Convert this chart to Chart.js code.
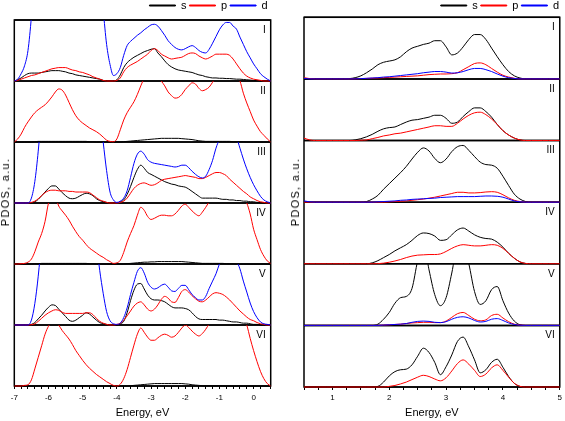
<!DOCTYPE html>
<html><head><meta charset="utf-8">
<script src="https://cdn.jsdelivr.net/npm/chart.js@4"></script>
<style>
html,body{margin:0;padding:0;background:#fff;}
#wrap{position:relative;width:565px;height:421px;overflow:hidden;background:#fff;}
.pane{position:absolute;top:0;height:421px;}
.ylab{position:absolute;font:11px "Liberation Sans",Arial,sans-serif;letter-spacing:1.3px;color:#000;white-space:nowrap;transform:translate(-50%,-50%) rotate(-90deg);}
</style></head><body>
<div id="wrap">
<div class="pane" style="left:0;width:283px"><canvas id="cL" width="283" height="421"></canvas></div>
<div class="pane" style="left:283px;width:282px"><canvas id="cR" width="282" height="421"></canvas></div>
<div class="ylab" style="left:5px;top:192px">PDOS, a.u.</div>
<div class="ylab" style="left:295px;top:192px">PDOS, a.u.</div>
</div>
<script>
// ---------- data ----------
const subplotLabels = ['I','II','III','IV','V','VI'];
const seriesNames = ['s','p','d'];
const majorTicksLeft = [-7,-6,-5,-4,-3,-2,-1,0];
const majorTicksRight = [1,2,3,4,5];

const energyLeft = [-7.0,-6.9,-6.8,-6.7,-6.6,-6.5,-6.4,-6.3,-6.2,-6.1,
 -6.0,-5.9,-5.8,-5.7,-5.6,-5.5,-5.4,-5.3,-5.2,-5.1,
 -5.0,-4.9,-4.8,-4.7,-4.6,-4.5,-4.4,-4.3,-4.2,-4.1,
 -4.0,-3.9,-3.8,-3.7,-3.6,-3.5,-3.4,-3.3,-3.2,-3.1,
 -3.0,-2.9,-2.8,-2.7,-2.6,-2.5,-2.4,-2.3,-2.2,-2.1,
 -2.0,-1.9,-1.8,-1.7,-1.6,-1.5,-1.4,-1.3,-1.2,-1.1,
 -1.0,-0.9,-0.8,-0.7,-0.6,-0.5,-0.4,-0.3,-0.2,-0.1,
 0.0,0.1,0.2,0.3,0.4,0.5];

const energyRight = [0.5,0.6,0.7,0.8,0.9,1.0,1.1,1.2,1.3,1.4,
 1.5,1.6,1.7,1.8,1.9,2.0,2.1,2.2,2.3,2.4,
 2.5,2.6,2.7,2.8,2.9,3.0,3.1,3.2,3.3,3.4,
 3.5,3.6,3.7,3.8,3.9,4.0,4.1,4.2,4.3,4.4,
 4.5,4.6,4.7,4.8,4.9,5.0];

// Left panel (valence), subplot I..VI
const sL1 = [0,0.02,0.05,0.09,0.12,0.13,0.13,0.13,0.14,0.15,
 0.16,0.17,0.17,0.17,0.16,0.15,0.13,0.12,0.10,0.09,
 0.08,0.07,0.06,0.05,0.04,0.03,0.01,0,0,0,
 0.02,0.1,0.22,0.3,0.35,0.39,0.42,0.45,0.48,0.5,
 0.52,0.53,0.46,0.4,0.33,0.27,0.23,0.2,0.18,0.17,
 0.16,0.15,0.14,0.12,0.1,0.09,0.07,0.06,0.05,0.05,
 0.045,0.045,0.04,0.04,0.035,0.03,0.03,0.025,0.02,0.015,
 0.01,0.01,0.005,0,0,0];
const pL1 = [0,0.01,0.03,0.05,0.07,0.09,0.1,0.12,0.14,0.16,
 0.18,0.2,0.21,0.22,0.22,0.22,0.2,0.18,0.17,0.15,
 0.14,0.12,0.1,0.07,0.05,0.03,0.01,0,0,0,
 0.01,0.05,0.15,0.22,0.26,0.29,0.32,0.36,0.4,0.44,
 0.5,0.53,0.5,0.44,0.41,0.38,0.36,0.37,0.38,0.39,
 0.42,0.45,0.46,0.45,0.41,0.38,0.36,0.38,0.41,0.44,
 0.44,0.44,0.44,0.42,0.36,0.28,0.2,0.13,0.08,0.05,
 0.03,0.02,0.01,0,0,0];
const dL1 = [0,0.03,0.12,0.25,0.5,1.05,1.8,2.5,3,3.3,
 3.5,3.5,3.5,3.5,3.5,3.5,3.5,3.5,3.5,3.5,
 3.5,3.4,3.0,2.6,2.1,1.6,1.15,0.6,0.27,0.09,
 0.12,0.22,0.42,0.58,0.65,0.7,0.75,0.79,0.84,0.88,
 0.92,0.93,0.9,0.83,0.75,0.66,0.6,0.55,0.52,0.51,
 0.53,0.56,0.58,0.55,0.5,0.47,0.46,0.52,0.62,0.73,
 0.84,0.92,0.96,0.96,0.9,0.85,0.72,0.6,0.48,0.38,
 0.28,0.2,0.12,0.07,0.03,0];

const sL2 = [0,0,0,0,0,0,0.005,0.01,0.01,0.01,
 0.01,0.01,0.01,0.01,0.01,0.01,0.01,0.01,0.01,0.01,
 0.01,0.01,0.005,0.005,0,0,0,0,0,0,
 0,0,0.005,0.01,0.015,0.02,0.025,0.03,0.035,0.04,
 0.045,0.05,0.055,0.06,0.06,0.06,0.06,0.06,0.06,0.055,
 0.05,0.045,0.04,0.03,0.02,0.015,0.01,0.01,0.01,0.01,
 0.01,0.01,0.01,0.01,0.005,0.005,0.005,0.005,0,0,
 0,0,0,0,0,0];
const pL2 = [0,0.05,0.13,0.24,0.33,0.41,0.48,0.53,0.57,0.61,
 0.67,0.74,0.82,0.87,0.85,0.77,0.65,0.53,0.43,0.36,
 0.31,0.27,0.23,0.2,0.17,0.13,0.08,0.03,0.01,0.005,
 0.05,0.2,0.36,0.48,0.57,0.66,0.78,0.92,1.05,1.15,
 1.2,1.15,1.08,1.0,0.92,0.82,0.76,0.72,0.73,0.78,
 0.86,0.92,0.97,0.95,0.88,0.84,0.86,0.9,0.98,1.08,
 1.15,1.2,1.2,1.18,1.14,1.08,1.0,0.8,0.64,0.5,
 0.36,0.26,0.17,0.11,0.05,0];

const sL3 = [0,0,0,0,0,0.005,0.02,0.06,0.12,0.18,
 0.24,0.28,0.28,0.23,0.17,0.12,0.08,0.07,0.08,0.11,
 0.14,0.16,0.15,0.12,0.07,0.04,0.02,0.01,0,0,
 0,0.02,0.05,0.14,0.27,0.42,0.55,0.62,0.57,0.5,
 0.47,0.44,0.41,0.38,0.35,0.33,0.31,0.3,0.28,0.27,
 0.26,0.23,0.19,0.15,0.11,0.08,0.08,0.08,0.08,0.08,
 0.07,0.06,0.06,0.05,0.05,0.04,0.04,0.03,0.03,0.02,
 0.02,0.01,0.01,0,0,0];
const pL3 = [0,0,0,0,0,0.01,0.03,0.07,0.12,0.17,
 0.2,0.21,0.21,0.2,0.2,0.2,0.19,0.19,0.18,0.18,
 0.18,0.18,0.17,0.13,0.09,0.05,0.03,0.01,0,0,
 0,0.01,0.03,0.08,0.16,0.24,0.29,0.32,0.33,0.31,
 0.29,0.3,0.33,0.37,0.39,0.4,0.41,0.42,0.43,0.44,
 0.45,0.44,0.43,0.42,0.4,0.4,0.42,0.45,0.48,0.5,
 0.5,0.48,0.45,0.39,0.34,0.29,0.24,0.19,0.15,0.1,
 0.07,0.04,0.02,0.01,0,0];
const dL3 = [0,0,0,0,0,0.08,0.35,0.85,1.5,2.2,
 2.8,3.2,3.5,3.5,3.5,3.5,3.5,3.5,3.5,3.5,
 3.5,3.4,3.1,2.5,2.0,1.5,1.0,0.53,0.18,0.05,
 0.01,0.03,0.08,0.2,0.42,0.65,0.8,0.85,0.8,0.71,
 0.67,0.65,0.64,0.63,0.62,0.61,0.6,0.59,0.6,0.62,
 0.62,0.58,0.52,0.47,0.43,0.41,0.44,0.55,0.7,0.9,
 1.05,1.2,1.25,1.25,1.2,1.08,0.9,0.72,0.56,0.42,
 0.3,0.2,0.11,0.05,0.02,0];

const sL4 = [0,0,0,0,0,0,0.005,0.005,0.01,0.01,
 0.01,0.01,0.01,0.01,0.01,0.01,0.01,0.01,0.01,0.01,
 0.01,0.01,0.005,0.005,0,0,0,0,0,0,
 0,0,0,0.005,0.01,0.015,0.02,0.025,0.03,0.03,
 0.035,0.035,0.04,0.04,0.04,0.04,0.04,0.04,0.04,0.04,
 0.035,0.03,0.025,0.02,0.015,0.01,0.01,0.01,0.01,0.01,
 0.01,0.01,0.005,0.005,0.005,0,0,0,0,0,
 0,0,0,0,0,0];
const pL4 = [0,0,0.005,0.01,0.03,0.08,0.2,0.36,0.5,0.7,
 1.0,1.15,1.1,0.95,0.87,0.8,0.72,0.62,0.53,0.45,
 0.39,0.32,0.26,0.22,0.18,0.14,0.11,0.07,0.04,0.01,
 0.02,0.06,0.19,0.36,0.5,0.63,0.8,0.93,0.88,0.78,
 0.73,0.75,0.78,0.8,0.8,0.79,0.79,0.82,0.88,0.95,
 0.98,0.93,0.87,0.82,0.79,0.85,0.93,1.02,1.1,1.18,
 1.2,1.2,1.2,1.2,1.2,1.18,1.15,1.1,1.0,0.82,
 0.57,0.4,0.24,0.13,0.05,0.01];

const sL5 = [0,0,0,0,0,0.01,0.04,0.1,0.16,0.23,
 0.29,0.33,0.32,0.26,0.2,0.14,0.08,0.06,0.08,0.12,
 0.16,0.2,0.18,0.13,0.08,0.04,0.02,0.01,0,0,
 0,0.02,0.06,0.2,0.4,0.57,0.67,0.68,0.59,0.49,
 0.43,0.41,0.41,0.4,0.38,0.34,0.3,0.28,0.28,0.28,
 0.27,0.25,0.2,0.14,0.1,0.09,0.09,0.09,0.09,0.09,
 0.08,0.08,0.07,0.06,0.05,0.05,0.04,0.03,0.03,0.02,
 0.01,0.01,0,0,0,0];
const pL5 = [0,0,0,0,0,0.005,0.02,0.06,0.11,0.16,
 0.2,0.23,0.25,0.24,0.21,0.19,0.19,0.19,0.19,0.19,
 0.19,0.2,0.2,0.17,0.11,0.06,0.03,0.01,0,0,
 0.01,0.03,0.08,0.15,0.23,0.31,0.36,0.38,0.33,0.26,
 0.23,0.26,0.33,0.42,0.47,0.44,0.38,0.37,0.45,0.55,
 0.58,0.54,0.48,0.43,0.39,0.38,0.41,0.46,0.51,0.53,
 0.52,0.5,0.46,0.41,0.35,0.29,0.23,0.18,0.13,0.09,
 0.07,0.04,0.02,0.01,0,0];
const dL5 = [0,0,0,0,0,0.08,0.35,0.8,1.4,2.0,
 2.5,2.8,3.0,3.0,3.0,3.0,3.0,3.0,3.0,3.0,
 3.0,2.7,2.2,1.8,1.35,0.89,0.52,0.22,0.07,0.02,
 0.01,0.03,0.12,0.28,0.5,0.7,0.88,0.94,0.85,0.7,
 0.62,0.59,0.61,0.65,0.67,0.62,0.56,0.55,0.6,0.65,
 0.65,0.58,0.5,0.45,0.41,0.41,0.47,0.6,0.72,0.84,
 1.0,1.12,1.18,1.18,1.12,1.05,0.92,0.72,0.54,0.36,
 0.22,0.12,0.05,0.02,0.01,0];

const sL6 = [0,0,0,0,0,0,0,0.005,0.005,0.005,
 0.005,0.005,0.005,0.005,0.005,0.005,0.005,0.005,0.005,0.005,
 0.005,0.005,0,0,0,0,0,0,0,0,
 0,0,0,0,0.005,0.01,0.015,0.02,0.025,0.03,
 0.035,0.04,0.04,0.04,0.04,0.04,0.04,0.04,0.04,0.04,
 0.035,0.03,0.02,0.015,0.01,0.005,0.005,0.005,0.005,0.005,
 0.005,0.005,0,0,0,0,0,0,0,0,
 0,0,0,0,0,0];
const pL6 = [0,0,0,0.01,0.02,0.1,0.28,0.47,0.66,0.85,
 0.98,1.05,1.07,1.0,0.91,0.84,0.77,0.68,0.58,0.5,
 0.42,0.35,0.29,0.24,0.19,0.15,0.11,0.07,0.04,0.01,
 0,0.03,0.12,0.27,0.47,0.67,0.85,0.95,0.88,0.8,
 0.75,0.75,0.79,0.83,0.85,0.83,0.8,0.82,0.88,0.95,
 1.0,0.96,0.9,0.85,0.82,0.86,0.93,1.02,1.1,1.15,
 1.18,1.18,1.18,1.18,1.18,1.18,1.18,1.12,1.0,0.78,
 0.58,0.4,0.24,0.12,0.04,0];

// Right panel (conduction), subplot I..VI
const sR1 = [0,0,0,0,0,0,0,0,0.005,0.02,
 0.05,0.1,0.16,0.23,0.27,0.29,0.31,0.36,0.44,0.5,
 0.53,0.56,0.58,0.62,0.62,0.52,0.39,0.42,0.52,0.64,
 0.72,0.72,0.64,0.5,0.36,0.23,0.12,0.05,0.015,0,
 0,0,0,0,0,0];
const pR1 = [0.02,0.005,0,0,0,0,0,0,0,0,
 0.005,0.008,0.012,0.015,0.02,0.025,0.03,0.035,0.04,0.045,
 0.05,0.06,0.07,0.075,0.08,0.08,0.085,0.1,0.15,0.2,
 0.25,0.26,0.23,0.17,0.11,0.06,0.03,0.01,0,0,
 0,0,0,0,0,0];
const dR1 = [0.01,0,0,0,0,0,0,0,0,0,
 0.005,0.01,0.015,0.02,0.03,0.035,0.045,0.055,0.065,0.075,
 0.085,0.1,0.11,0.12,0.12,0.11,0.095,0.1,0.12,0.15,
 0.17,0.17,0.15,0.12,0.08,0.045,0.02,0.008,0,0,
 0,0,0,0,0,0];

const sR2 = [0,0,0,0,0,0,0,0,0,0.01,
 0.03,0.06,0.1,0.15,0.19,0.21,0.22,0.26,0.3,0.33,
 0.34,0.36,0.38,0.41,0.41,0.36,0.28,0.3,0.39,0.47,
 0.53,0.53,0.47,0.38,0.26,0.16,0.09,0.04,0.01,0,
 0,0,0,0,0,0];
const pR2 = [0.04,0.01,0,0,0,0,0,0,0,0,
 0.005,0.01,0.03,0.05,0.075,0.09,0.11,0.12,0.14,0.16,
 0.18,0.2,0.22,0.24,0.24,0.23,0.23,0.28,0.35,0.41,
 0.45,0.46,0.42,0.35,0.26,0.16,0.09,0.04,0.01,0,
 0,0,0,0,0,0];

const sR3 = [0,0,0,0,0,0,0,0,0,0,
 0,0.01,0.05,0.11,0.21,0.3,0.39,0.48,0.58,0.7,
 0.81,0.88,0.83,0.71,0.64,0.7,0.82,0.9,0.92,0.84,
 0.74,0.65,0.61,0.6,0.55,0.42,0.27,0.13,0.05,0.01,
 0,0,0,0,0,0];
const pR3 = [0,0,0,0,0,0,0,0,0,0,
 0,0,0,0,0,0.005,0.01,0.015,0.02,0.03,
 0.04,0.05,0.065,0.08,0.1,0.12,0.14,0.16,0.16,0.15,
 0.15,0.155,0.165,0.17,0.16,0.12,0.07,0.03,0.01,0,
 0,0,0,0,0,0];
const dR3 = [0.02,0.005,0,0,0,0,0,0,0,0,
 0,0,0,0.005,0.01,0.015,0.02,0.03,0.035,0.045,
 0.05,0.055,0.06,0.065,0.075,0.08,0.085,0.09,0.09,0.09,
 0.09,0.095,0.1,0.1,0.095,0.08,0.05,0.02,0.005,0,
 0,0,0,0,0,0];

const sR4 = [0,0,0,0,0,0,0,0,0,0,
 0,0,0.015,0.05,0.1,0.15,0.21,0.26,0.31,0.38,
 0.46,0.5,0.49,0.45,0.38,0.39,0.47,0.55,0.58,0.53,
 0.47,0.43,0.41,0.4,0.35,0.27,0.17,0.09,0.03,0.005,
 0,0,0,0,0,0];
const pR4 = [0,0,0,0,0,0,0,0,0,0,
 0,0,0,0.002,0.01,0.025,0.045,0.07,0.1,0.125,
 0.14,0.145,0.15,0.15,0.16,0.2,0.25,0.29,0.31,0.3,
 0.29,0.29,0.3,0.31,0.3,0.25,0.17,0.09,0.03,0.005,
 0,0,0,0,0,0];

const sR5 = [0,0,0,0,0,0,0,0,0,0,
 0,0,0,0.02,0.1,0.21,0.36,0.45,0.47,0.6,
 1.05,1.35,0.9,0.5,0.32,0.45,0.85,1.3,1.35,1.0,
 0.55,0.34,0.4,0.58,0.63,0.4,0.2,0.07,0.01,0,
 0,0,0,0,0,0];
const pR5 = [0,0,0,0,0,0,0,0,0,0,
 0,0,0,0,0.005,0.01,0.015,0.02,0.03,0.04,
 0.045,0.05,0.05,0.045,0.045,0.07,0.13,0.19,0.21,0.16,
 0.1,0.075,0.09,0.16,0.18,0.12,0.06,0.02,0.005,0,
 0,0,0,0,0,0];
const dR5 = [0,0,0,0,0,0,0,0,0,0,
 0,0,0,0,0.005,0.01,0.015,0.02,0.03,0.05,
 0.065,0.07,0.065,0.05,0.045,0.06,0.1,0.13,0.14,0.12,
 0.08,0.055,0.065,0.1,0.11,0.08,0.04,0.015,0.003,0,
 0,0,0,0,0,0];

const sR6 = [0,0,0,0,0,0,0,0,0,0,
 0,0,0,0.01,0.08,0.18,0.25,0.28,0.29,0.36,
 0.5,0.63,0.56,0.4,0.2,0.33,0.52,0.74,0.81,0.65,
 0.44,0.23,0.28,0.4,0.45,0.32,0.17,0.06,0.01,0,
 0,0,0,0,0,0];
const pR6 = [0,0,0,0,0,0,0,0,0,0,
 0,0,0,0,0,0.01,0.025,0.05,0.08,0.12,
 0.16,0.19,0.17,0.13,0.1,0.15,0.26,0.38,0.44,0.37,
 0.27,0.17,0.21,0.31,0.36,0.27,0.16,0.06,0.01,0,
 0,0,0,0,0,0];

// ---------- styling ----------
const colors = {s:'#000000', p:'#ff0000', d:'#0000ff'};
const drawOrder = {s:2, p:1, d:0};
const FONT = '"Liberation Sans", Arial, Helvetica, sans-serif';
Chart.defaults.font.family = FONT;
Chart.defaults.color = '#000';

const framePlugin = {
  id: 'frame',
  beforeDatasetsDraw(chart) {
    const {ctx, chartArea: a} = chart;
    ctx.save();
    ctx.strokeStyle = '#000';
    ctx.lineWidth = 1.5;
    ctx.strokeRect(a.left, a.top, a.right - a.left, a.bottom - a.top);
    subplotLabels.forEach((t, k) => {
      const sc = chart.scales['y' + k];
      ctx.beginPath();
      ctx.moveTo(a.left, sc.top); ctx.lineTo(a.right, sc.top);
      ctx.moveTo(a.left, sc.bottom); ctx.lineTo(a.right, sc.bottom);
      ctx.stroke();
    });
    ctx.restore();
  }
};
const labelPlugin = {
  id: 'subplotLabels',
  afterDatasetsDraw(chart) {
    const {ctx, chartArea: a} = chart;
    ctx.save();
    ctx.font = '10px ' + FONT;
    ctx.fillStyle = '#000';
    ctx.textAlign = 'right';
    ctx.textBaseline = 'middle';
    subplotLabels.forEach((t, k) => {
      const sc = chart.scales['y' + k];
      ctx.fillText(t, a.right - 5, sc.top + 10);
    });
    ctx.restore();
  }
};

function buildChart(canvasId, energy, subplots, opt) {
  const datasets = [];
  const scales = {
    x: {
      type: 'linear', position: 'bottom', min: opt.min, max: opt.max,
      ticks: {
        stepSize: opt.step, autoSkip: false, maxRotation: 0, minRotation: 0,
        padding: opt.tickPad, color: '#000', font: {size: 8, family: FONT},
        callback: (v) => opt.major.some(m => Math.abs(m - v) < 1e-6) ? String(Math.round(v)) : ''
      },
      grid: {drawOnChartArea: false, drawTicks: true, tickLength: 3, color: '#000', tickColor: '#000', lineWidth: 1},
      border: {display: false},
      title: {display: true, text: 'Energy, eV', color: '#000', font: {size: 11, family: FONT}, padding: {top: 0, bottom: 1}},
      afterFit: (s) => { s.height = opt.xHeight; }
    }
  };
  // stacked y axes: the stack is filled bottom-up, so declare VI first
  for (let k = subplots.length - 1; k >= 0; k--) {
    scales['y' + k] = {
      type: 'linear', position: 'left', stack: 'panel', stackWeight: 1,
      min: 0, max: 1, display: true,
      ticks: {display: false}, grid: {display: false}, border: {display: false},
      afterFit: (s) => { s.width = 0; }
    };
  }
  subplots.forEach((sp, k) => {
    const yid = 'y' + k;
    seriesNames.forEach((name) => {
      const vals = sp[name];
      if (!vals) return;
      datasets.push({
        label: name,
        data: energy.map((e, i) => ({x: e, y: vals[i]})),
        yAxisID: yid, xAxisID: 'x',
        borderColor: colors[name], backgroundColor: colors[name],
        borderWidth: 1, pointRadius: 0, pointHoverRadius: 0,
        cubicInterpolationMode: 'monotone', fill: false,
        order: drawOrder[name],
        clip: {left: 0, right: 0, top: 0, bottom: 1}
      });
    });
  });
  return new Chart(document.getElementById(canvasId), {
    type: 'line',
    data: {datasets},
    options: {
      responsive: false, animation: false, devicePixelRatio: 1,
      layout: {padding: opt.padding},
      scales,
      plugins: {
        tooltip: {enabled: false},
        legend: {
          display: true, position: 'top', align: 'end', maxHeight: opt.legendHeight,
          labels: {
            boxWidth: 26, boxHeight: 1, padding: 3, color: '#000',
            font: {size: 11, family: FONT},
            filter: (item) => item.datasetIndex < 3,
            sort: (a, b) => a.datasetIndex - b.datasetIndex
          }
        }
      }
    },
    plugins: [framePlugin, labelPlugin]
  });
}

buildChart('cL', energyLeft, [
  {s: sL1, p: pL1, d: dL1},
  {s: sL2, p: pL2},
  {s: sL3, p: pL3, d: dL3},
  {s: sL4, p: pL4},
  {s: sL5, p: pL5, d: dL5},
  {s: sL6, p: pL6}
], {min: -7, max: 0.5, step: 0.2, major: majorTicksLeft, tickPad: 4, xHeight: 35,
    legendHeight: 23, padding: {top: -3, left: 14.3, right: 12.3, bottom: 0}});

buildChart('cR', energyRight, [
  {s: sR1, p: pR1, d: dR1},
  {s: sR2, p: pR2},
  {s: sR3, p: pR3, d: dR3},
  {s: sR4, p: pR4},
  {s: sR5, p: pR5, d: dR5},
  {s: sR6, p: pR6}
], {min: 0.5, max: 5, step: 0.25, major: majorTicksRight, tickPad: 3, xHeight: 34,
    legendHeight: 20.3, padding: {top: -3, left: 21, right: 3, bottom: 0}});
</script>
</body></html>
